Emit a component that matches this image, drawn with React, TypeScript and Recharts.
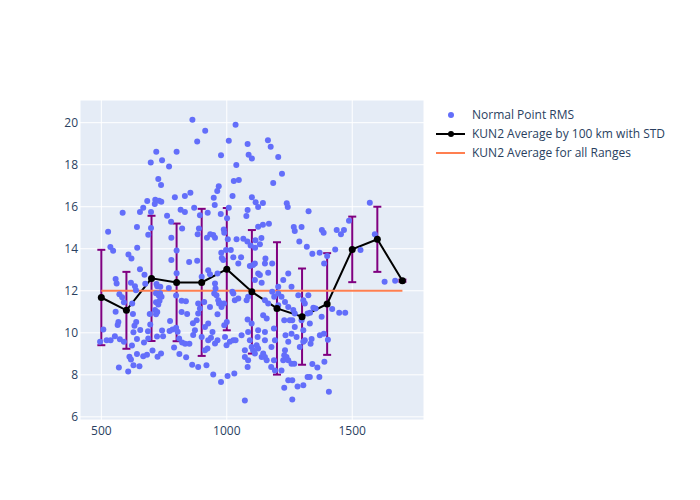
import React from 'react';
import {
  ComposedChart,
  Scatter,
  Line,
  ErrorBar,
  XAxis,
  YAxis,
  CartesianGrid,
} from 'recharts';

// range (km), rms
const normalPoints: [number, number][] = [
  [863, 20.14], [800, 18.62], [719, 18.62], [697, 18.11], [742, 18.21], [770, 17.92], [727, 17.32], [738, 17.03],
  [855, 16.67], [833, 16.51], [793, 16.45], [683, 16.27], [715, 16.33], [730, 16.29], [739, 16.24], [713, 16.13],
  [667, 15.95], [654, 15.75], [698, 15.75], [585, 15.71], [816, 15.86], [833, 15.75], [870, 15.95], [762, 15.57],
  [778, 15.29], [822, 14.97], [642, 15.03], [698, 14.99], [687, 14.67], [527, 14.81], [779, 14.52], [643, 14.05],
  [536, 14.08], [547, 13.9], [800, 13.92], [608, 13.73], [620, 13.54], [779, 13.46],
  [1035, 19.9], [914, 19.62], [882, 19.11], [1008, 19.14], [1083, 18.99], [1164, 19.16], [1175, 18.86], [977, 18.45],
  [1087, 18.48], [1100, 18.3], [1205, 18.37], [1038, 17.99], [1220, 17.57], [1185, 17.13], [1028, 17.22], [1048, 17.27],
  [968, 16.97], [962, 16.75], [948, 16.43], [1023, 16.51], [1100, 16.45], [1115, 16.21], [1125, 15.99], [1144, 16.18],
  [1239, 16.16], [1243, 15.99], [952, 16.08], [1008, 15.95], [1083, 15.84], [1078, 15.56], [924, 15.71], [893, 15.59],
  [976, 15.65], [1001, 15.45], [1326, 15.78], [1267, 15.03], [1271, 14.84], [1298, 15.03], [1168, 15.19], [1144, 15.14],
  [1125, 15.05], [1138, 14.51], [889, 14.97], [884, 14.69], [921, 14.52], [934, 14.69], [946, 14.65], [953, 14.52],
  [988, 14.92], [990, 14.76], [1004, 14.45], [1039, 14.45], [1066, 14.48], [1082, 14.35], [1095, 14.16], [1114, 14.41],
  [1113, 14.05], [1132, 14.21], [1289, 14.35], [1319, 14.1], [978, 13.81], [997, 13.94], [1016, 13.94], [1026, 13.59],
  [1057, 13.59], [980, 13.56], [1154, 13.54],
  [1570, 16.19], [1379, 14.89], [1386, 14.76], [1438, 14.89], [1455, 14.69], [1467, 14.89], [1487, 15.33], [1590, 14.69],
  [1533, 13.94], [1432, 13.97], [1341, 13.76], [1370, 13.81], [1400, 13.65],
  [1388, 13.3], [1629, 12.43], [1671, 12.48], [1420, 11.13], [1448, 10.95], [1472, 10.95], [1378, 10.76], [1345, 11.19],
  [1354, 11.16], [1332, 10.95], [1371, 9.88], [1387, 9.95], [1403, 9.67], [1338, 9.71], [1334, 9.48], [1389, 8.62],
  [1341, 8.51], [1361, 8.35], [1369, 7.9], [1331, 7.9], [1407, 7.19],
  [557, 12.56], [561, 12.35], [618, 12.38], [634, 12.22], [638, 12.03], [654, 13.02], [672, 12.76], [572, 11.83],
  [583, 11.69], [590, 11.46], [557, 11.0], [623, 11.4], [626, 10.89], [568, 10.52], [565, 10.37], [508, 10.16],
  [639, 10.51], [632, 10.33], [628, 10.03], [655, 10.13], [495, 9.57], [521, 9.64], [537, 9.64], [554, 9.84],
  [574, 9.69], [590, 9.57], [642, 9.7], [622, 9.4], [670, 9.54], [686, 10.07], [695, 10.4], [612, 8.86],
  [618, 8.73], [628, 8.45], [607, 8.16], [570, 8.35], [642, 8.99], [652, 8.41], [667, 8.89], [682, 8.95],
  [704, 9.16], [724, 8.86], [738, 9.02], [693, 10.89], [687, 9.73], [722, 9.83], [742, 10.11], [746, 9.84],
  [720, 12.32], [723, 12.22], [735, 12.19], [718, 11.88], [729, 11.78], [740, 11.71], [732, 11.52], [718, 11.46],
  [727, 11.35], [714, 11.08], [723, 10.99], [718, 10.88], [734, 11.88], [675, 12.33], [774, 10.56], [769, 12.13],
  [800, 12.83], [798, 11.78], [820, 11.52], [837, 11.5], [820, 10.99], [842, 10.89], [772, 10.08], [784, 10.16],
  [798, 10.24], [804, 10.05], [810, 9.73], [822, 9.54], [834, 9.48], [851, 9.48], [866, 9.89], [865, 10.45],
  [790, 9.3], [811, 8.99], [838, 8.84], [862, 8.48], [850, 13.37], [882, 13.43], [1092, 13.18],
  [953, 12.35], [955, 12.11], [950, 11.87], [959, 11.79], [966, 11.55], [973, 11.42], [979, 11.23], [969, 11.39],
  [989, 11.39], [963, 10.88], [933, 11.23], [926, 10.44], [910, 11.47], [886, 10.92], [880, 10.6], [873, 10.12],
  [900, 9.8], [926, 9.65], [937, 9.77], [943, 10.04], [913, 9.17], [923, 9.25], [953, 9.49], [963, 9.65],
  [993, 9.8], [999, 9.41], [1012, 9.57], [1026, 9.65], [1035, 9.65], [990, 10.36], [1000, 10.52], [1032, 11.55],
  [1046, 11.63], [1026, 11.87], [1022, 11.95], [1079, 11.55], [1085, 11.71], [1083, 10.63], [1059, 9.88], [1085, 10.04],
  [1092, 9.65], [1072, 9.17], [1085, 8.69], [1072, 8.85], [1083, 8.37], [1099, 9.33], [1105, 9.17], [1112, 9.01],
  [1119, 9.41], [1125, 9.25], [1139, 8.85], [1145, 9.01], [1152, 8.85], [1159, 8.69], [1125, 10.12], [1152, 10.04],
  [1145, 10.84], [1159, 10.68], [1188, 10.2], [1192, 9.65], [1188, 8.69], [1192, 8.21], [1177, 8.37], [1218, 8.21],
  [1225, 8.69], [1229, 8.93], [1232, 9.17], [1238, 8.85], [1245, 8.69], [1258, 8.53], [1269, 8.53], [1245, 9.57],
  [1234, 9.88], [1258, 9.96], [1271, 10.28], [1278, 9.8], [1305, 9.57], [1311, 9.65], [1291, 9.33], [1305, 10.12],
  [1298, 10.6], [1261, 10.6], [1251, 10.6], [1229, 10.6], [1271, 10.92], [1265, 11.08], [1245, 11.23], [1232, 11.47],
  [1218, 11.71], [1205, 11.87], [1189, 11.71], [1181, 11.95], [1205, 11.31], [1225, 12.51], [1245, 12.82], [1258, 12.19],
  [1285, 11.79], [1305, 11.55], [1311, 11.39], [1325, 11.79], [1322, 10.92], [1331, 10.44], [900, 12.67], [886, 8.37],
  [919, 8.45], [946, 8.02], [977, 7.66], [1003, 7.94], [1030, 8.06], [1072, 6.78], [1229, 7.39], [1245, 7.74],
  [1261, 7.74], [1282, 7.45], [1305, 7.5], [1261, 6.82], [1322, 7.9], [926, 12.98], [933, 12.79], [963, 12.82],
  [986, 13.46], [1046, 13.3], [1112, 13.3], [1125, 12.82], [1152, 13.3], [1181, 13.3], [1112, 12.51], [1139, 12.38],
  [1152, 11.55], [1165, 11.39], [1205, 12.19], [1178, 9.33], [1152, 9.65], [1099, 10.44], [1123, 9.8], [886, 11.39],
  [893, 11.16], [913, 10.28], [1165, 12.86], [1132, 12.75], [1105, 13.23],
];

const binRanges = [500, 600, 700, 800, 900, 1000, 1100, 1200, 1300, 1400, 1500, 1600, 1700];
const binMeans = [11.68, 11.07, 12.59, 12.4, 12.4, 13.03, 11.95, 11.16, 10.77, 11.37, 13.97, 14.45, 12.48];
const binStd = [2.27, 1.83, 2.98, 2.8, 3.5, 2.91, 2.94, 3.15, 2.29, 2.42, 1.56, 1.55, 0.05];

const overallRange = [500, 1700];
const overallMean = 12.0;

const xTicks = [500, 1000, 1500];
const yTicks = [6, 8, 10, 12, 14, 16, 18, 20];

const scatterData = normalPoints.map(([x, y]) => ({ x, y }));
const avgData = binRanges.map((x, i) => ({ x, y: binMeans[i], std: binStd[i] }));
const overallData = overallRange.map((x) => ({ x, y: overallMean }));

const FONT = '"Open Sans", verdana, arial, sans-serif';
const TXT = '#2a3f5f';

const Dot = (props: any) => <circle cx={props.cx} cy={props.cy} r={3} fill="#636efa" />;

const Legend = () => (
  <div style={{ position: 'absolute', left: 430, top: 104, fontFamily: FONT, fontSize: 12, color: TXT }}>
    <svg width={270} height={60}>
      <circle cx={21} cy={11} r={3} fill="#636efa" />
      <text x={42} y={15} fill={TXT} fontSize={12}>Normal Point RMS</text>
      <line x1={6} x2={35} y1={30} y2={30} stroke="#000" strokeWidth={2} />
      <circle cx={21} cy={30} r={3} fill="#000" />
      <text x={42} y={34} fill={TXT} fontSize={12}>KUN2 Average by 100 km with STD</text>
      <line x1={6} x2={35} y1={49} y2={49} stroke="#ff7f50" strokeWidth={2} />
      <text x={42} y={53} fill={TXT} fontSize={12}>KUN2 Average for all Ranges</text>
    </svg>
  </div>
);

export default function App() {
  return (
    <div style={{ position: 'absolute', left: 0, top: 0, width: 700, height: 500, background: '#fff', fontFamily: FONT }}>
      <ComposedChart width={700} height={500} margin={{ top: 100, right: 276, bottom: 50, left: 40 }}>
        <CartesianGrid fill="#e5ecf6" stroke="#fff" strokeWidth={1} />
        <XAxis
          type="number"
          dataKey="x"
          domain={[415, 1786]}
          ticks={xTicks}
          axisLine={false}
          tickLine={false}
          tickSize={0}
          tickMargin={6}
          height={30}
          allowDataOverflow
          tick={{ fill: TXT, fontSize: 12, fontFamily: FONT }}
        />
        <YAxis
          type="number"
          domain={[5.85, 21.08]}
          ticks={yTicks}
          axisLine={false}
          tickLine={false}
          tickSize={0}
          tickMargin={2}
          width={40}
          allowDataOverflow
          tick={{ fill: TXT, fontSize: 12, fontFamily: FONT }}
        />
        <Scatter data={scatterData} dataKey="y" shape={<Dot />} isAnimationActive={false} />
        <Line
          data={avgData}
          dataKey="y"
          type="linear"
          stroke="#000"
          strokeWidth={2}
          dot={{ r: 3.5, fill: '#000', stroke: '#000', strokeWidth: 0 }}
          isAnimationActive={false}
        >
          <ErrorBar dataKey="std" direction="y" stroke="#800080" strokeWidth={2} width={4} />
        </Line>
        <Line
          data={overallData}
          dataKey="y"
          type="linear"
          stroke="#ff7f50"
          strokeWidth={2}
          dot={false}
          isAnimationActive={false}
        />
      </ComposedChart>
      <Legend />
    </div>
  );
}
